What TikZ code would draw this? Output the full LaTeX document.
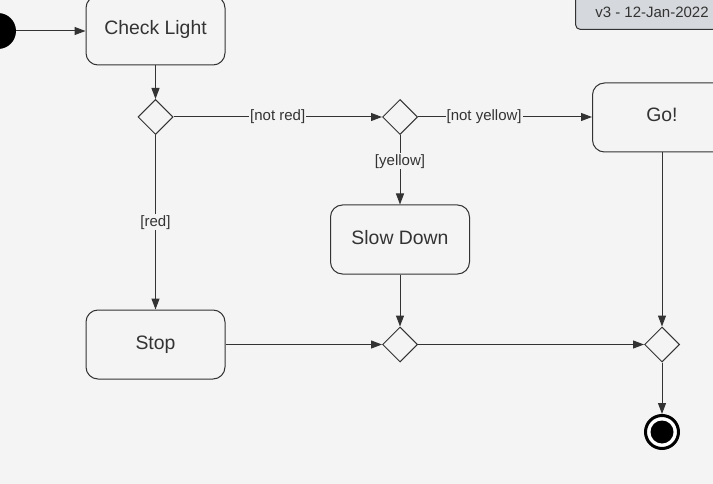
\documentclass[tikz,border=0pt]{standalone}
\usepackage{fontspec}
\setmainfont{Liberation Sans}
\usetikzlibrary{arrows.meta,shapes.geometric}
\definecolor{bg}{HTML}{F4F4F4}
\definecolor{ln}{HTML}{333333}
\definecolor{txt}{HTML}{333333}
\definecolor{notefill}{HTML}{D5D8DC}
\begin{document}
\begin{tikzpicture}[x=1pt,y=-1pt,
  every node/.style={text=txt},
  action/.style={draw=ln, line width=1pt, rounded corners=12pt, minimum width=139pt, minimum height=69pt, inner sep=0pt, text height=14pt, text depth=5pt, font=\fontsize{19.4}{22}\selectfont, fill=bg},
  choice/.style={draw=ln, line width=1pt, diamond, minimum width=35pt, minimum height=35pt, inner sep=0pt, fill=bg},
  flow/.style={draw=ln, line width=1pt, -{Triangle[length=11pt,width=8pt]}},
  guard/.style={fill=bg, inner sep=1pt, font=\fontsize{15}{18}\selectfont},
]
\useasboundingbox (0,0) rectangle (713,484);
\fill[bg] (0,0) rectangle (713,484);
\clip (0,0) rectangle (713,484);

% version note
\node[draw=ln, line width=1pt, fill=notefill, rounded corners=5pt, minimum width=160pt, minimum height=44pt, anchor=south west, inner sep=0pt] (note) at (575,30) {};
\node[font=\fontsize{15}{18}\selectfont] (ver) at (652,12) {v3 - 12-Jan-2022};

% nodes
\node[circle, fill=black, minimum size=36pt, inner sep=0pt] (start) at (-2,31) {};
\node[action] (check) at (155.5,30.5) {Check Light};
\node[choice] (d1) at (155.5,117) {};
\node[choice] (d2) at (400,117) {};
\node[action] (go) at (662,117.5) {Go!};
\node[action] (slow) at (400,239.5) {Slow Down};
\node[action] (stop) at (155.5,344.5) {Stop};
\node[choice] (d3) at (400,344.5) {};
\node[choice] (d4) at (662,344.5) {};
\node[circle, draw=black, line width=3pt, fill=white, minimum size=33pt, inner sep=0pt] (end) at (662,432) {};
\node[circle, fill=black, minimum size=23pt, inner sep=0pt] (endin) at (end.center) {};

% connectors
\draw[flow] (start) -- (check.west |- start);
\draw[flow] (check) -- (d1);
\draw[flow] (d1) -- node[guard] (lnotred) {[not red]} (d2);
\draw[flow] (d2) -- node[guard, pos=0.38] (lnotyellow) {[not yellow]} (go.west |- d2);
\draw[flow] (d2) -- node[guard, pos=0.38] (lyellow) {[yellow]} (slow);
\draw[flow] (d1) -- node[guard] (lred) {[red]} (stop);
\draw[flow] (slow) -- (d3);
\draw[flow] (stop) -- (d3);
\draw[flow] (d3) -- (d4);
\draw[flow] (go) -- (d4);
\draw[flow] (d4) -- (end);
\end{tikzpicture}
\end{document}
